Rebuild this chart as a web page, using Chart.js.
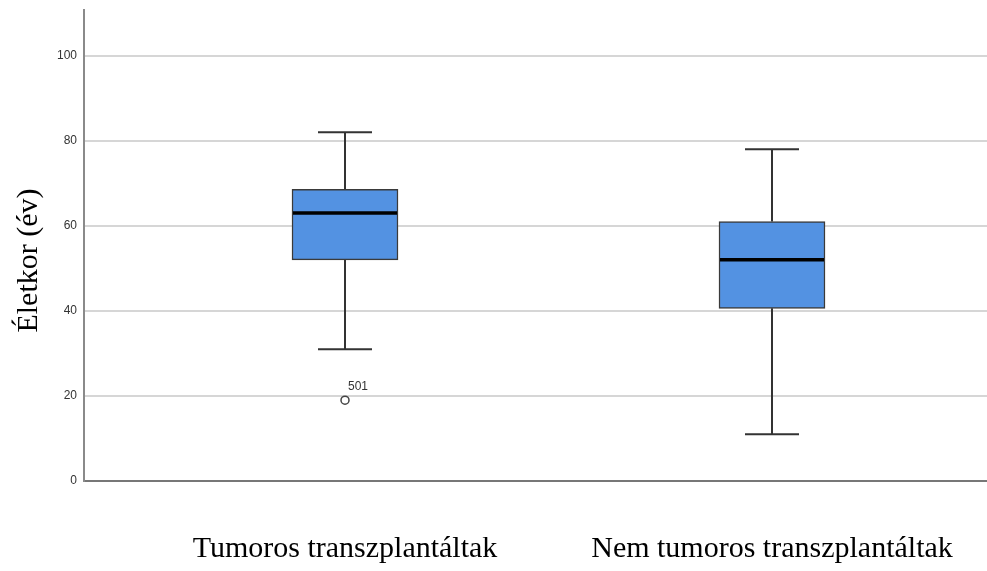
<!DOCTYPE html>
<html>
<head>
<meta charset="utf-8">
<script src="https://cdn.jsdelivr.net/npm/chart.js@4.4.0/dist/chart.umd.min.js"></script>
<style>
  html, body { margin: 0; padding: 0; background: #ffffff; }
  #wrap { width: 987px; height: 571px; position: relative; }
</style>
</head>
<body>
<div id="wrap"><canvas id="chart"></canvas></div>
<script>
// Age distribution by transplant group (box plot)
const groups = ['Tumoros transzplantáltak', 'Nem tumoros transzplantáltak'];
const groupPos = [1, 2];
const whiskerLow = [31, 11];
const q1 = [52, 40.6];
const median = [63, 52];
const q3 = [68.6, 61];
const whiskerHigh = [82, 78];
const outlierGroup = [1];
const outlierValue = [19];
const outlierLabel = ['501'];
const yTicks = [0, 20, 40, 60, 80, 100];
const yMax = 110.75;
const yTitle = 'Életkor (év)';

const BOX_WIDTH = 106;
const CAP_WIDTH = 54;

// Whiskers under the boxes, medians and outlier ids on top
const boxPlotParts = {
  id: 'boxPlotParts',
  beforeDatasetsDraw(chart) {
    const { ctx, scales: { x, y } } = chart;
    ctx.save();
    ctx.strokeStyle = '#333333';
    ctx.lineWidth = 2;
    groupPos.forEach((g, i) => {
      const px = Math.round(x.getPixelForValue(g));
      const yHi = y.getPixelForValue(whiskerHigh[i]);
      const yQ3 = y.getPixelForValue(q3[i]);
      const yQ1 = y.getPixelForValue(q1[i]);
      const yLo = y.getPixelForValue(whiskerLow[i]);
      ctx.beginPath();
      ctx.moveTo(px, yHi); ctx.lineTo(px, yQ3);
      ctx.moveTo(px, yQ1); ctx.lineTo(px, yLo);
      ctx.moveTo(px - CAP_WIDTH / 2, yHi); ctx.lineTo(px + CAP_WIDTH / 2, yHi);
      ctx.moveTo(px - CAP_WIDTH / 2, yLo); ctx.lineTo(px + CAP_WIDTH / 2, yLo);
      ctx.stroke();
    });
    ctx.restore();
  },
  afterDatasetsDraw(chart) {
    const { ctx, scales: { x, y } } = chart;
    ctx.save();
    ctx.strokeStyle = '#000000';
    ctx.lineWidth = 3.5;
    groupPos.forEach((g, i) => {
      const px = x.getPixelForValue(g);
      const ym = y.getPixelForValue(median[i]);
      ctx.beginPath();
      ctx.moveTo(px - BOX_WIDTH / 2 + 1, ym);
      ctx.lineTo(px + BOX_WIDTH / 2 - 1, ym);
      ctx.stroke();
    });
    ctx.fillStyle = '#333333';
    ctx.font = '12px "Liberation Sans", Arial, sans-serif';
    ctx.textAlign = 'left';
    ctx.textBaseline = 'middle';
    outlierGroup.forEach((g, i) => {
      const px = x.getPixelForValue(g);
      const py = y.getPixelForValue(outlierValue[i]);
      ctx.fillText(outlierLabel[i], px + 3, py - 14);
    });
    ctx.restore();
  },
  afterDraw(chart) {
    const { ctx, chartArea } = chart;
    ctx.save();
    ctx.fillStyle = '#000000';
    ctx.font = '30px "Liberation Serif", "Times New Roman", serif';
    ctx.textAlign = 'center';
    ctx.textBaseline = 'middle';
    ctx.translate(29, (chartArea.top + chartArea.bottom) / 2 + 15);
    ctx.rotate(-Math.PI / 2);
    ctx.fillText(yTitle, 0, 0);
    ctx.restore();
  }
};

new Chart(document.getElementById('chart'), {
  type: 'bar',
  data: {
    datasets: [
      {
        type: 'bar',
        data: groupPos.map((g, i) => ({ x: g, y: [q1[i], q3[i]] })),
        backgroundColor: '#5392e2',
        borderColor: '#3a3a3a',
        borderWidth: 1.5,
        borderSkipped: false,
        barThickness: BOX_WIDTH,
        order: 2
      },
      {
        type: 'scatter',
        data: outlierGroup.map((g, i) => ({ x: g, y: outlierValue[i] })),
        pointStyle: 'circle',
        pointRadius: 4,
        pointBackgroundColor: '#ffffff',
        pointBorderColor: '#444444',
        pointBorderWidth: 1.5,
        order: 1
      }
    ]
  },
  options: {
    responsive: true,
    maintainAspectRatio: false,
    animation: false,
    layout: { autoPadding: false, padding: { top: 10, right: 0, bottom: 0, left: 0 } },
    plugins: { legend: { display: false }, tooltip: { enabled: false } },
    scales: {
      x: {
        type: 'linear',
        offset: false,
        min: 0.38876,
        max: 2.50351,
        afterBuildTicks(scale) { scale.ticks = groupPos.map(v => ({ value: v })); },
        afterFit(scale) {
          scale.height = 90;
          scale.paddingLeft = 0;
          scale.paddingRight = 0;
        },
        grid: { display: false, drawTicks: false, offset: false },
        border: { display: true, color: '#777777', width: 2 },
        ticks: {
          padding: 50,
          color: '#000000',
          maxRotation: 0,
          autoSkip: false,
          font: { family: '"Liberation Serif", "Times New Roman", serif', size: 30 },
          callback: v => groups[groupPos.indexOf(v)]
        }
      },
      y: {
        min: 0,
        max: yMax,
        afterBuildTicks(scale) { scale.ticks = yTicks.map(v => ({ value: v })); },
        afterFit(scale) {
          scale.width = 84;
          scale.paddingTop = 0;
          scale.paddingBottom = 0;
        },
        grid: {
          drawTicks: false,
          lineWidth: 2,
          color: c => (c.tick && c.tick.value === 0 ? 'rgba(0,0,0,0)' : '#d6d6d6')
        },
        border: { display: true, color: '#8a8a8a', width: 2 },
        ticks: {
          padding: 7,
          color: '#333333',
          font: { family: '"Liberation Sans", Arial, sans-serif', size: 12 }
        }
      }
    }
  },
  plugins: [boxPlotParts]
});
</script>
</body>
</html>
